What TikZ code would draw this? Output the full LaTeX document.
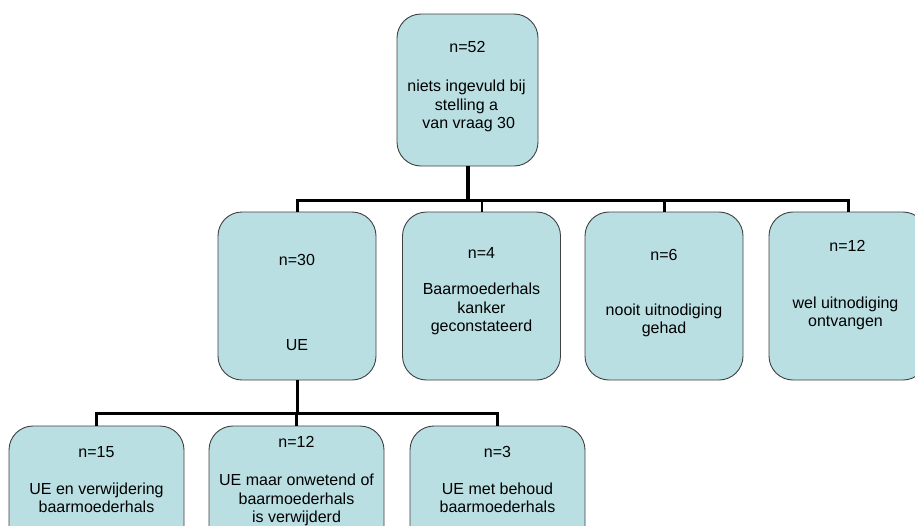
\documentclass[tikz,border=0pt]{standalone}
\usepackage{fontspec}
\setmainfont{Liberation Sans}
\definecolor{boxfill}{RGB}{185,223,227}
\definecolor{boxline}{RGB}{64,64,64}
\begin{document}
\begin{tikzpicture}[x=1pt,y=-1pt,
  box/.style={draw=boxline, line width=0.9pt, fill=boxfill, rounded corners=24pt, inner sep=0pt},
  top box/.style={box, minimum width=141pt, minimum height=152pt},
  mid box/.style={box, minimum width=158pt, minimum height=168pt},
  low box/.style={box, minimum width=175pt, minimum height=130pt},
  txt/.style={align=center, font=\fontsize{16}{18.5}\selectfont, inner sep=0pt, text=black},
  wire/.style={draw=black, line width=3pt, line join=miter},
  thick wire/.style={wire, line width=4pt},
  thin wire/.style={wire, line width=2pt}]
\clip (0,0) rectangle (915,525);

% boxes
\node[top box] (top) at (467.5,90) {};
\node[mid box] (ue)  at (297,296) {};
\node[mid box] (kk)  at (481.5,296) {};
\node[mid box] (no)  at (664,296) {};
\node[mid box] (wel) at (848,296) {};
\node[low box] (uev) at (96.5,491) {};
\node[low box] (uon) at (296.5,491) {};
\node[low box] (ueb) at (497.5,491) {};

% texts
\node[txt] (top-n) at (467.5,47) {n=52};
\node[txt] (top-t) at (466.5,106) {niets ingevuld bij\\stelling a\\\ van vraag 30};
\node[txt] (ue-n)  at (297,260) {n=30};
\node[txt] (ue-t)  at (297,345) {UE};
\node[txt] (kk-n)  at (481.5,253) {n=4};
\node[txt] (kk-t)  at (481.5,309) {Baarmoederhals\\kanker\\geconstateerd};
\node[txt] (no-n)  at (664,255) {n=6};
\node[txt] (no-t)  at (664,320.5) {nooit uitnodiging\\gehad};
\node[txt] (wel-n) at (847.5,246) {n=12};
\node[txt] (wel-t) at (845.5,313.5) {wel uitnodiging\\ontvangen};
\node[txt] (uev-n) at (96.5,452) {n=15};
\node[txt] (uev-t) at (96.5,498) {UE en verwijdering\\baarmoederhals};
\node[txt] (uon-n) at (296.5,442) {n=12};
\node[txt] (uon-t) at (296.5,500) {UE maar onwetend of\\baarmoederhals\\is verwijderd};
\node[txt] (ueb-n) at (497.5,452) {n=3};
\node[txt] (ueb-t) at (497.5,498) {UE met behoud\\baarmoederhals};

% connector buses
\coordinate (bus1) at (0,200);
\coordinate (bus2) at (0,413);

\draw[thick wire] (top.south) -- (top.south |- bus1);
\draw[wire] (ue.north) -- (ue.north |- bus1) -- (wel.north |- bus1) -- (wel.north);
\draw[thin wire] (kk.north |- bus1) -- (kk.north);
\draw[wire] (no.north |- bus1) -- (no.north);

\draw[wire] (ue.south) -- (ue.south |- bus2);
\draw[wire] (uev.north) -- (uev.north |- bus2) -- (ueb.north |- bus2) -- (ueb.north);
\draw[wire] (uon.north |- bus2) -- (uon.north);
\end{tikzpicture}
\end{document}
